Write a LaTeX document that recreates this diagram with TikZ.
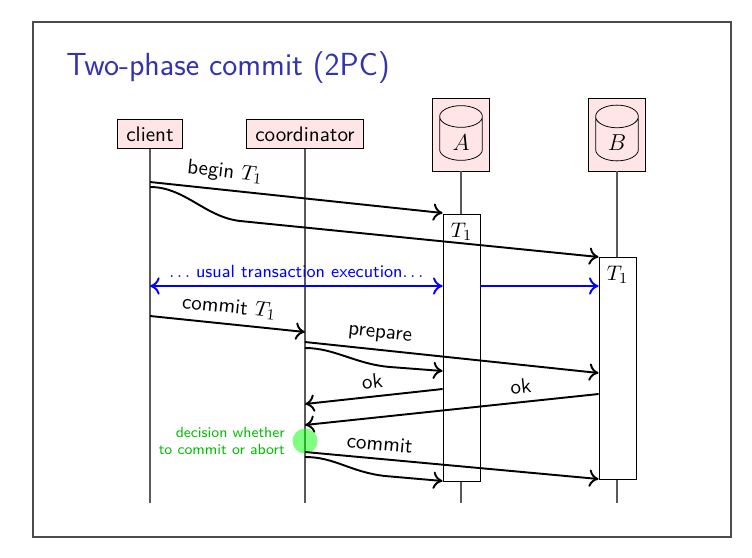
\documentclass[tikz,border=0pt,11pt]{standalone}
\usetikzlibrary{arrows.meta,shapes.geometric,fit}
\definecolor{titleblue}{rgb}{0.2,0.2,0.7}
\tikzset{
  head/.style={draw, fill=red!10, minimum height=14.5pt, inner xsep=4.5pt},
  dbbox/.style={draw, fill=red!10, minimum width=30pt, minimum height=38pt},
  db/.style={draw, cylinder, shape border rotate=90, aspect=0.7, minimum width=22.2pt, minimum height=28pt, anchor=shape center, font=\large},
  lifeline/.style={draw=black!65, line width=0.6pt},
  act/.style={draw, fill=white, inner sep=0pt},
  msg/.style={line width=1pt, -{To[length=5pt,width=9pt]}},
  bluemsg/.style={msg, blue, {To[length=5pt,width=9pt]}-{To[length=5pt,width=9pt]}},
  decision/.style={circle, fill=green, opacity=0.5, minimum size=13pt, inner sep=0pt},
}
\begin{document}
\begin{tikzpicture}[x=0.52pt, y=-0.52pt, font=\sffamily]
\useasboundingbox (0,0) rectangle (752,557);
% Frame and title
\draw[black!70, line width=0.6pt] (33,22) rectangle (731,537);
\node[anchor=base west, inner sep=0pt, text=titleblue, font=\sffamily\fontsize{16.6}{20}\selectfont] (title) at (66,75) {Two-phase commit (2PC)};

% Participants
\node[head] (client) at (150,134) {client};
\node[head] (coord) at (305,134) {coordinator};
\node[dbbox] (A) at (461,134.5) {};
\node[db] (Acyl) at (461,133) {$A$};
\node[dbbox] (B) at (617,134.5) {};
\node[db] (Bcyl) at (617,133) {$B$};
\coordinate (bottom) at (0,503);

% Lifelines
\foreach \p in {client, coord, A, B}
  \draw[lifeline] (\p.south) -- (\p.south |- bottom);

% Activation boxes
\path (443,214) coordinate (a1) (480,481) coordinate (a2)
      (599,257) coordinate (b1) (636,479) coordinate (b2);
\node[act, fit=(a1)(a2)] (actA) {};
\node[below=1pt] (TA) at (actA.north) {$T_1$};
\node[act, fit=(b1)(b2)] (actB) {};
\node[below=1pt] (TB) at (actB.north) {$T_1$};

% Begin
\draw[msg] (client |- 0,182) -- node[pos=0.25, above, sloped] {begin $T_1$} (actA.west |- 0,213);
\draw[msg] (client |- 0,187) .. controls (185,187) and (205,217) .. (240,221) -- (actB.west |- 0,257);

% Usual execution
\draw[bluemsg] (client |- 0,286) -- node[midway, above, font=\sffamily\fontsize{9.2}{11}\selectfont] {$\ldots$ usual transaction execution$\ldots$} (actA.west |- 0,286);
\draw[msg, blue] (actA.east |- 0,286) -- (actB.west |- 0,286);

% Commit request
\draw[msg] (client |- 0,316) -- node[midway, above, sloped] {commit $T_1$} (coord |- 0,332);

% Phase 1
\draw[msg] (coord |- 0,342) -- node[pos=0.25, above, sloped] {prepare} (actB.west |- 0,373);
\draw[msg] (coord |- 0,348) .. controls (335,348) and (355,364) .. (390,367) -- (actA.west |- 0,371);
\draw[msg] (actA.west |- 0,389) -- node[midway, above, sloped] {ok} (coord |- 0,404);
\draw[msg] (actB.west |- 0,394) -- node[pos=0.26, above, sloped] {ok} (coord |- 0,425);

% Decision
\node[decision] (dec) at (coord |- 0,441) {};
\node[left, align=right, text=green!75!black, font=\sffamily\fontsize{7.7}{9.2}\selectfont] (dectext) at (dec.west) {decision whether\\to commit or abort};

% Phase 2
\draw[msg] (coord |- 0,452) -- node[pos=0.25, above, sloped] {commit} (actB.west |- 0,479);
\draw[msg] (coord |- 0,457) .. controls (335,457) and (350,472) .. (385,476) -- (actA.west |- 0,481);
\end{tikzpicture}
\end{document}
